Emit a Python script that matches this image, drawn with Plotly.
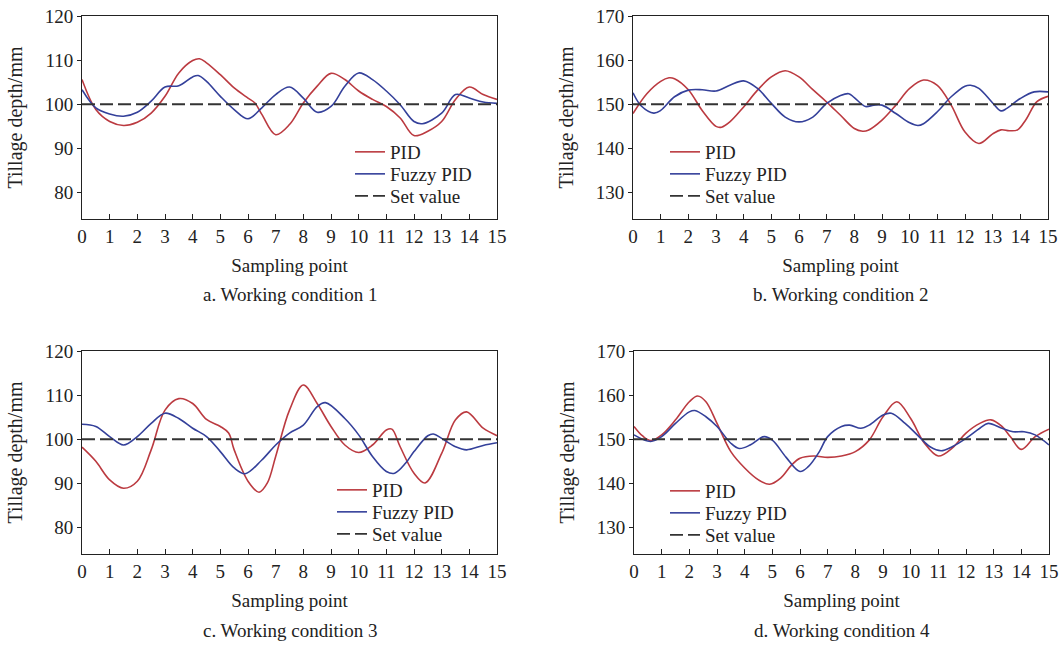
import plotly.graph_objects as go

# ---------------- data ----------------
set_value_1 = 100
set_value_2 = 150
set_x = [0, 15]

# Working condition 1
a_pid_x = [0, 0.5, 1, 1.5, 2, 2.5, 3, 3.5, 4, 4.25, 4.5, 5, 5.5, 6, 6.25, 6.5, 7, 7.5, 8, 8.5, 9, 9.5, 10, 10.5, 11, 11.5, 12, 12.5, 13, 13.5, 14, 14.5, 15]
a_pid_y = [105.6, 98.8, 96.1, 95.2, 95.9, 98.0, 101.8, 107.1, 109.9, 110.3, 109.4, 106.7, 103.7, 101.4, 100.3, 97.7, 93.1, 95.4, 100.3, 104.1, 107.0, 105.6, 103.0, 101.1, 99.5, 96.9, 92.9, 93.9, 96.1, 101.1, 103.9, 102.2, 101.1]
a_fz_x = [0, 0.5, 1, 1.5, 2, 2.5, 3, 3.5, 4, 4.2, 4.5, 5, 5.5, 6, 6.5, 7, 7.5, 8, 8.5, 9, 9.5, 10, 10.5, 11, 11.5, 12, 12.3, 13, 13.5, 14, 14.5, 15]
a_fz_y = [103.3, 99.2, 97.8, 97.3, 98.2, 100.7, 103.9, 104.2, 106.2, 106.5, 105.2, 101.8, 98.8, 96.7, 99.2, 102.2, 103.9, 101.4, 98.2, 99.5, 104.1, 107.1, 105.6, 103.0, 99.9, 96.1, 95.6, 98.0, 102.2, 101.4, 100.5, 100.2]

# Working condition 2
b_pid_x = [0, 0.5, 1, 1.3, 1.5, 2, 2.5, 3, 3.2, 3.5, 4, 4.5, 5, 5.5, 6, 6.5, 7, 7.5, 8, 8.3, 8.5, 9, 9.5, 10, 10.5, 11, 11.5, 12, 12.5, 13, 13.3, 13.6, 13.9, 14.2, 14.6, 15]
b_pid_y = [147.9, 152.4, 155.2, 156.0, 155.8, 153.3, 148.6, 145.0, 144.8, 146.0, 149.4, 153.2, 156.2, 157.6, 156.2, 153.3, 150.5, 147.5, 144.5, 143.9, 144.1, 146.4, 149.8, 153.6, 155.5, 154.3, 149.8, 143.7, 141.1, 143.3, 144.2, 144.0, 144.2, 146.5, 150.6, 151.8]
b_fz_x = [0, 0.3, 0.75, 1, 1.5, 2, 2.5, 3, 3.5, 4, 4.5, 5, 5.5, 6, 6.5, 7, 7.5, 7.8, 8, 8.4, 8.7, 9, 9.5, 10, 10.3, 10.5, 11, 11.5, 12, 12.2, 12.5, 13, 13.3, 13.5, 14, 14.5, 15]
b_fz_y = [152.6, 149.6, 148.0, 148.6, 151.7, 153.2, 153.3, 153.0, 154.3, 155.3, 153.6, 150.2, 147.1, 146.0, 147.1, 150.2, 152.0, 152.4, 151.5, 149.5, 149.8, 149.8, 147.9, 145.8, 145.2, 145.6, 148.3, 151.7, 154.1, 154.3, 153.6, 150.3, 148.5, 149.0, 151.3, 152.8, 152.8]

# Working condition 3
c_pid_x = [0, 0.5, 1, 1.5, 2, 2.5, 3, 3.5, 4, 4.5, 5, 5.3, 5.5, 6, 6.4, 6.7, 7, 7.5, 8, 8.5, 9, 9.5, 10, 10.5, 11, 11.2, 11.5, 12, 12.4, 13, 13.5, 13.9, 14.5, 15]
c_pid_y = [98.2, 95.0, 90.8, 88.9, 90.5, 97.6, 106.6, 109.2, 108.1, 104.5, 102.9, 101.4, 97.6, 90.5, 88.0, 90.1, 96.1, 106.6, 112.3, 108.1, 102.9, 98.7, 97.0, 98.7, 102.1, 102.3, 98.3, 92.3, 90.1, 96.8, 104.4, 106.2, 102.5, 100.8]
c_fz_x = [0, 0.5, 1, 1.5, 2, 2.5, 3, 3.5, 4, 4.5, 5, 5.5, 5.9, 6.5, 7, 7.5, 8, 8.5, 8.8, 9.5, 10, 10.5, 11, 11.3, 11.7, 12, 12.5, 12.7, 13, 13.5, 13.9, 14.5, 15]
c_fz_y = [103.4, 102.9, 100.6, 98.7, 100.6, 103.6, 105.9, 104.7, 102.5, 100.6, 97.2, 93.5, 92.2, 95.3, 98.7, 101.4, 103.2, 107.4, 108.3, 104.7, 101.0, 96.1, 92.7, 92.3, 94.6, 97.2, 100.8, 101.2, 100.2, 98.3, 97.6, 98.6, 99.2]

# Working condition 4
d_pid_x = [0, 0.3, 0.6, 1, 1.5, 2, 2.3, 2.6, 3, 3.5, 4, 4.5, 4.9, 5.3, 5.7, 6, 6.5, 7, 7.5, 8, 8.5, 9, 9.5, 10, 10.5, 11, 11.5, 12, 12.5, 12.9, 13.3, 13.6, 14, 14.5, 15]
d_pid_y = [152.9, 150.8, 149.7, 151.0, 154.4, 158.5, 159.8, 158.5, 153.6, 147.2, 143.5, 140.8, 139.8, 141.2, 144.2, 145.7, 146.2, 145.9, 146.2, 147.2, 149.8, 155.1, 158.5, 154.7, 149.1, 146.2, 148.0, 151.4, 153.6, 154.4, 152.9, 150.6, 147.7, 150.6, 152.3]
d_fz_x = [0, 0.6, 1, 1.5, 2, 2.2, 2.6, 3, 3.5, 3.8, 4.2, 4.7, 5, 5.5, 6, 6.3, 6.7, 7, 7.5, 7.8, 8.2, 8.5, 9, 9.3, 9.8, 10.3, 10.7, 11.1, 11.5, 12, 12.5, 12.8, 13.3, 13.7, 14.1, 14.5, 15]
d_fz_y = [151.0, 149.5, 150.6, 153.6, 156.2, 156.5, 155.1, 152.9, 149.1, 147.9, 148.7, 150.6, 149.8, 145.9, 142.7, 143.8, 147.2, 150.6, 152.9, 153.2, 152.5, 153.2, 155.5, 155.9, 153.6, 150.6, 148.3, 147.4, 148.3, 150.2, 152.5, 153.6, 152.5, 151.7, 151.7, 151.0, 148.7]

x_ticks = list(range(0, 16))
y_ticks_1 = [80, 90, 100, 110, 120]
y_ticks_2 = [130, 140, 150, 160, 170]
captions = ["a. Working condition 1", "b. Working condition 2",
            "c. Working condition 3", "d. Working condition 4"]
series_names = ["PID", "Fuzzy PID", "Set value"]

# ---------------- style ----------------
RED = "#bb3a40"
BLUE = "#34409a"
DASH = "#333333"
FONT = "Liberation Serif"
TXT = "#222222"

W, H = 1062, 652
def px_x(v): return v / W
def px_y(v): return 1 - v / H

# panel boxes (pixels) and legend row placement (left x, row centres)
panels = [
    dict(x=(82, 497), y=(16, 219), pid=(a_pid_x, a_pid_y), fz=(a_fz_x, a_fz_y),
         sv=set_value_1, yr=[74, 120], yt=y_ticks_1, legx=350, rows=(152, 174, 196)),
    dict(x=(633, 1048), y=(16, 219), pid=(b_pid_x, b_pid_y), fz=(b_fz_x, b_fz_y),
         sv=set_value_2, yr=[124, 170], yt=y_ticks_2, legx=665, rows=(152, 174, 196)),
    dict(x=(82, 497), y=(351, 554), pid=(c_pid_x, c_pid_y), fz=(c_fz_x, c_fz_y),
         sv=set_value_1, yr=[74, 120], yt=y_ticks_1, legx=332, rows=(490, 512, 534)),
    dict(x=(634, 1049), y=(351, 554), pid=(d_pid_x, d_pid_y), fz=(d_fz_x, d_fz_y),
         sv=set_value_2, yr=[124, 170], yt=y_ticks_2, legx=665, rows=(491, 513, 535)),
]

fig = go.Figure()
layout = dict(
    width=W, height=H, margin=dict(l=0, r=0, t=0, b=0, autoexpand=False),
    paper_bgcolor="white", plot_bgcolor="white",
    font=dict(family=FONT, size=19, color=TXT),
    showlegend=True, annotations=[],
)

leg_count = 0
for i, p in enumerate(panels):
    n = "" if i == 0 else str(i + 1)
    xa, ya = "x" + n, "y" + n
    series = [
        (p["pid"][0], p["pid"][1], dict(color=RED, width=1.6, shape="spline", smoothing=1.0)),
        (p["fz"][0], p["fz"][1], dict(color=BLUE, width=1.6, shape="spline", smoothing=1.0)),
        (set_x, [p["sv"], p["sv"]], dict(color=DASH, width=1.8, dash="13px,5px")),
    ]
    for k, (sx, sy, ln) in enumerate(series):
        leg_count += 1
        lg = "legend" if leg_count == 1 else "legend" + str(leg_count)
        fig.add_trace(go.Scatter(x=sx, y=sy, mode="lines", name=series_names[k], line=ln,
                                 xaxis=xa, yaxis=ya, legend=lg))
        layout[lg] = dict(
            x=px_x(p["legx"]), y=px_y(p["rows"][k]), xanchor="left", yanchor="middle",
            bgcolor="rgba(0,0,0,0)", borderwidth=0, font=dict(size=19, color=TXT),
            tracegroupgap=0, itemwidth=30,
        )

    layout["xaxis" + n] = dict(
        domain=[px_x(p["x"][0]), px_x(p["x"][1])], anchor=ya, range=[0, 15],
        tickvals=x_ticks, ticks="inside", ticklen=5, tickcolor="#222", tickwidth=1,
        showline=True, linecolor="#222", linewidth=1, mirror=True, showgrid=False, zeroline=False,
        tickfont=dict(size=19), automargin=False,
        title=dict(text="Sampling point", font=dict(size=19), standoff=12),
    )
    layout["yaxis" + n] = dict(
        domain=[px_y(p["y"][1]), px_y(p["y"][0])], anchor=xa, range=p["yr"],
        tickvals=p["yt"], ticks="outside", ticklen=4, tickcolor="#222", tickwidth=1,
        showline=True, linecolor="#222", linewidth=1, mirror=True, showgrid=False, zeroline=False,
        tickfont=dict(size=19), automargin=False,
        title=dict(text="Tillage depth/mm", font=dict(size=20), standoff=16),
    )
    layout["annotations"].append(dict(
        text=captions[i], xref="paper", yref="paper",
        x=px_x((p["x"][0] + p["x"][1]) / 2), y=px_y(p["y"][1] + 76),
        xanchor="center", yanchor="middle", showarrow=False, font=dict(size=19, color=TXT),
    ))

fig.update_layout(**layout)
fig.write_html("out.html", config={"displayModeBar": False},
               post_script="document.body.style.margin='0';document.body.style.padding='0';")
